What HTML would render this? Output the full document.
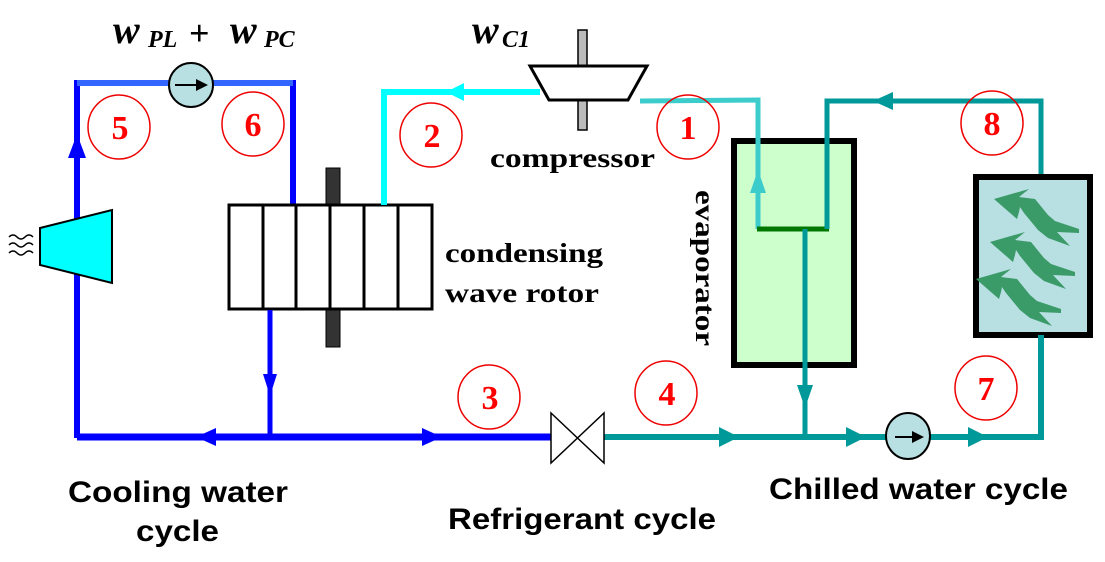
<!DOCTYPE html>
<html><head><meta charset="utf-8"><style>html,body{margin:0;padding:0;background:#fff}svg{display:block}</style></head><body>
<svg width="1105" height="562" viewBox="0 0 1105 562" xmlns="http://www.w3.org/2000/svg">
<defs>
<path id="flw" d="M994,199 L1029,189 L1019,197 L1035,199 L1048,215 L1055,221 L1079,229 L1079,233 L1057,232 L1070,246 L1048,238 L1038,230 L1024,213 L1020,207 L1019,212 L1017,219 Z" fill="#3a9a68"/>
</defs>
<polyline points="77,438 77,83 293,83 293,205" fill="none" stroke="#0000ff" stroke-width="6"/>
<line x1="77" y1="83" x2="293" y2="83" stroke="#3366ff" stroke-width="6"/>
<polygon points="77,134 68,158 86,158" fill="#0000ff"/>
<polygon points="40,228 112,210 112,283 40,265" fill="#00ffff" stroke="#000" stroke-width="2"/>
<path d="M9,237 q4,-4 8,0 t8,0 t8,0 M9,245 q4,-4 8,0 t8,0 t8,0 M9,253 q4,-4 8,0 t8,0 t8,0" fill="none" stroke="#000" stroke-width="1.5"/>
<circle cx="191" cy="85" r="22" fill="#b8dfe2" stroke="#000" stroke-width="2"/>
<line x1="175" y1="85" x2="200" y2="85" stroke="#000" stroke-width="2"/>
<polygon points="196,79 208,85 196,91" fill="#000"/>
<rect x="326" y="168" width="14" height="38" fill="#333" stroke="#000"/>
<rect x="326" y="309" width="14" height="38" fill="#333" stroke="#000"/>
<rect x="229" y="205" width="203" height="104" fill="#fff" stroke="#000" stroke-width="3"/>
<path d="M263,205V309 M296,205V309 M330,205V309 M364,205V309 M398,205V309" stroke="#000" stroke-width="3"/>
<polyline points="270,310 270,438" fill="none" stroke="#0000ff" stroke-width="5"/>
<polygon points="263,374 277,374 270,396" fill="#0000ff"/>
<line x1="77" y1="437" x2="551" y2="437" stroke="#0000ff" stroke-width="7"/>
<polygon points="196,437 216,428 216,446" fill="#0000ff"/>
<polygon points="442,437 422,428 422,446" fill="#0000ff"/>
<polyline points="384,205 384,92 540,92" fill="none" stroke="#00ffff" stroke-width="6"/>
<polygon points="446,92 464,83 464,101" fill="#00ffff"/>
<rect x="578" y="30" width="9" height="100" fill="#bbb" stroke="#000" stroke-width="1.5"/>
<polygon points="530,66 647,66 628,100 549,100" fill="#fff" stroke="#000" stroke-width="3"/>
<polyline points="640,101 758,100 758,229" fill="none" stroke="#3ccccc" stroke-width="5"/>
<rect x="734" y="141" width="120" height="224" fill="#ccffcc" stroke="#000" stroke-width="6"/>
<polyline points="758,130 758,229" fill="none" stroke="#3ccccc" stroke-width="5"/>
<polygon points="758,170 750,193 766,193" fill="#3ccccc"/>
<line x1="757" y1="229" x2="829" y2="229" stroke="#007700" stroke-width="5"/>
<polyline points="827,229 827,101 1041,101 1041,178" fill="none" stroke="#009999" stroke-width="5"/>
<polygon points="873,101 893,92 893,110" fill="#009999"/>
<line x1="805" y1="229" x2="805" y2="437" stroke="#009999" stroke-width="5"/>
<polygon points="797,385 813,385 805,408" fill="#009999"/>
<rect x="976" y="177" width="114" height="158" fill="#b8dfe2" stroke="#000" stroke-width="6"/>
<use href="#flw"/>
<use href="#flw" transform="translate(-4,43)"/>
<use href="#flw" transform="translate(-18,80)"/>
<polyline points="604,437 1041,437 1041,335" fill="none" stroke="#009999" stroke-width="6"/>
<polygon points="739,437 719,427 719,447" fill="#009999"/>
<polygon points="866,437 846,427 846,447" fill="#009999"/>
<polygon points="988,437 968,427 968,447" fill="#009999"/>
<ellipse cx="908" cy="436" rx="22" ry="23" fill="#b8dfe2" stroke="#000" stroke-width="2"/>
<line x1="895" y1="437" x2="915" y2="437" stroke="#000" stroke-width="2"/>
<polygon points="912,431 924,437 912,443" fill="#000"/>
<polygon points="551,413 604,463 604,413 551,463" fill="#fff" stroke="#000" stroke-width="1.5"/>
<g fill="none" stroke="#e00" stroke-width="1.5">
<ellipse cx="119" cy="127" rx="31" ry="32"/>
<ellipse cx="253" cy="124" rx="31" ry="32"/>
<ellipse cx="431" cy="135" rx="31" ry="32"/>
<ellipse cx="688" cy="127" rx="31" ry="32"/>
<ellipse cx="992" cy="123" rx="31" ry="32"/>
<ellipse cx="489" cy="397" rx="31" ry="32"/>
<ellipse cx="666" cy="393" rx="31" ry="32"/>
<ellipse cx="986" cy="388" rx="31" ry="32"/>
</g>
<g font-family="Liberation Serif, serif" font-weight="bold" font-size="34" fill="#f00" text-anchor="middle">
<text x="120" y="139">5</text><text x="253" y="136">6</text><text x="432" y="147">2</text>
<text x="688" y="139">1</text><text x="992" y="135">8</text><text x="490" y="409">3</text>
<text x="667" y="405">4</text><text x="986" y="400">7</text>
</g>
<g font-family="Liberation Serif, serif" font-weight="bold" font-style="italic" fill="#000">
<text x="113" y="43" font-size="40">w</text><text x="148" y="47" font-size="24">PL</text>
<text x="189" y="45" font-size="36" font-style="normal">+</text>
<text x="230" y="43" font-size="40">w</text><text x="264" y="47" font-size="24">PC</text>
<text x="472" y="43" font-size="40">w</text><text x="502" y="47" font-size="24">C1</text>
</g>
<g font-family="Liberation Serif, serif" font-weight="bold" font-size="27" fill="#000">
<text x="490" y="167" textLength="165" lengthAdjust="spacingAndGlyphs">compressor</text>
<text x="445" y="262" textLength="158" lengthAdjust="spacingAndGlyphs">condensing</text>
<text x="445" y="302" textLength="154" lengthAdjust="spacingAndGlyphs">wave rotor</text>
<text transform="translate(696,190) rotate(90)" textLength="156" lengthAdjust="spacingAndGlyphs">evaporator</text>
</g>
<g font-family="Liberation Sans, sans-serif" font-weight="bold" font-size="30" fill="#000">
<text x="68" y="502" textLength="220" lengthAdjust="spacingAndGlyphs">Cooling water</text>
<text x="136" y="541" textLength="83" lengthAdjust="spacingAndGlyphs">cycle</text>
<text x="448" y="529" textLength="268" lengthAdjust="spacingAndGlyphs">Refrigerant cycle</text>
<text x="769" y="499" textLength="299" lengthAdjust="spacingAndGlyphs">Chilled water cycle</text>
</g>
</svg>
</body></html>
